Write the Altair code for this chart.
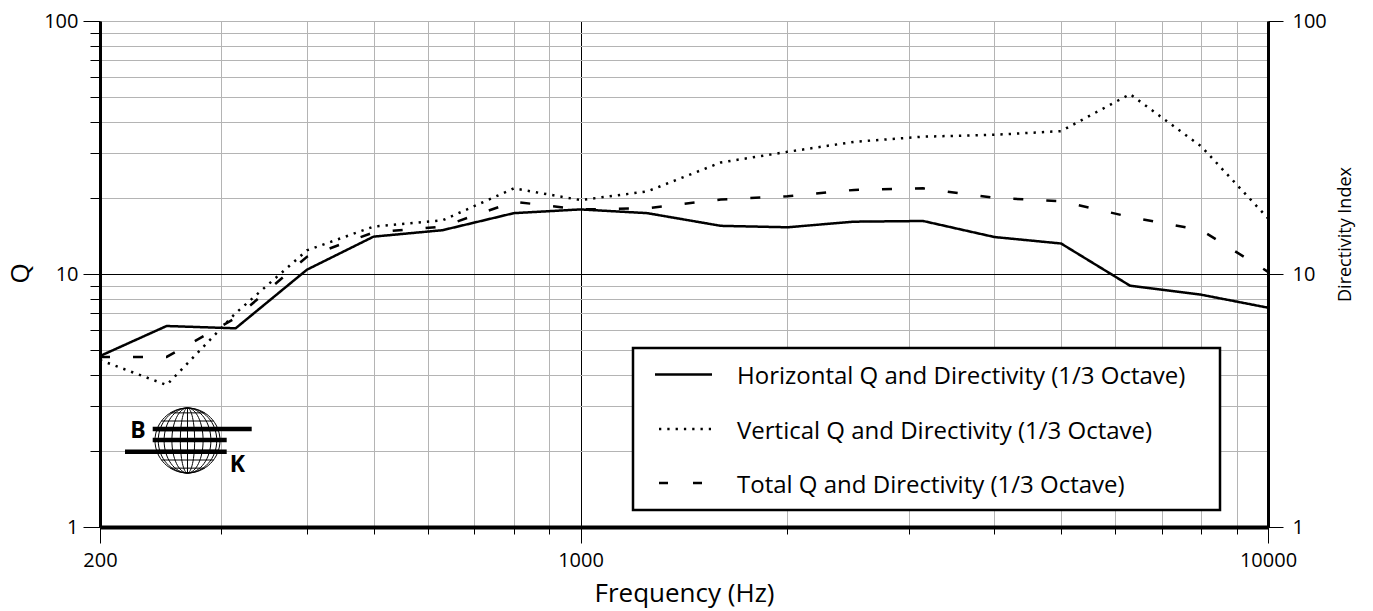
import math
import altair as alt
import pandas as pd

# ---------------- data ----------------
freqs = [200, 250, 315, 400, 500, 630, 800, 1000, 1250, 1600, 2000, 2500,
         3150, 4000, 5000, 6300, 8000, 10000]
horizontal_q = [4.74, 6.23, 6.10, 10.4, 14.05, 14.9, 17.4, 18.0, 17.4, 15.5,
                15.3, 16.1, 16.2, 14.0, 13.2, 8.99, 8.28, 7.36]
vertical_q = [4.57, 3.64, 7.0, 12.4, 15.4, 16.3, 21.8, 19.6, 21.2, 27.6,
              30.4, 33.3, 34.9, 35.5, 36.7, 51.4, 31.9, 16.6]
total_q = [4.7, 4.7, 6.7, 11.7, 14.6, 15.4, 19.3, 18.0, 18.2, 19.7,
           20.3, 21.5, 21.8, 20.0, 19.4, 16.8, 14.9, 10.2]
series_names = ["Horizontal Q and Directivity (1/3 Octave)",
                "Vertical Q and Directivity (1/3 Octave)",
                "Total Q and Directivity (1/3 Octave)"]

x_ticks = [200, 300, 400, 500, 600, 700, 800, 900, 1000,
           2000, 3000, 4000, 5000, 6000, 7000, 8000, 9000, 10000]
x_labels = [200, 1000, 10000]
y_ticks = [1, 2, 3, 4, 5, 6, 7, 8, 9, 10, 20, 30, 40, 50, 60, 70, 80, 90, 100]
y_labels = [1, 10, 100]

x_title = "Frequency (Hz)"
y_title = "Q"
y2_title = "Directivity Index"

rows = []
for name, vals in zip(series_names, [horizontal_q, vertical_q, total_q]):
    for f, v in zip(freqs, vals):
        rows.append({"freq": f, "q": v, "series": name})
df = pd.DataFrame(rows)

FONT = "Open Sans"
dashes = [[1, 0], [2.3, 6], [10, 23]]

x_lab_test = " || ".join(f"datum.value == {v}" for v in x_labels)
y_lab_test = " || ".join(f"datum.value == {v}" for v in y_labels)

x_scale = alt.Scale(type="log", domain=[200, 10000], nice=False)
y_scale = alt.Scale(type="log", domain=[1, 100], nice=False)

x_enc = alt.X(
    "freq:Q", scale=x_scale,
    axis=alt.Axis(
        values=x_ticks,
        labelExpr=f"({x_lab_test}) ? format(datum.value, 'd') : ''",
        labelFlush=False, labelFontSize=20, labelPadding=7, labelFont=FONT,
        labelColor="black",
        tickSize={"condition": {"test": x_lab_test, "value": 16}, "value": 7},
        tickColor="black", tickWidth=1,
        domainColor="black", domainWidth=4,
        grid=True, gridWidth=1,
        gridColor={"condition": {"test": "datum.value == 1000", "value": "black"},
                   "value": "#b4b4b4"},
        title=x_title, titleFontSize=26, titleFont=FONT, titleFontWeight="normal",
        titleColor="black", titleBaseline="alphabetic", titleY=74,
    ),
)

y_left = alt.Y(
    "q:Q", scale=y_scale,
    axis=alt.Axis(
        values=y_ticks,
        labelExpr=f"({y_lab_test}) ? format(datum.value, 'd') : ''",
        labelFontSize=20, labelPadding=5, labelFont=FONT, labelColor="black",
        tickSize={"condition": {"test": y_lab_test, "value": 17}, "value": 10},
        tickColor="black", tickWidth=1,
        domainColor="black", domainWidth=3,
        grid=True, gridWidth=1,
        gridColor={"condition": {"test": "datum.value == 10", "value": "black"},
                   "value": "#b4b4b4"},
        title=y_title, titleFontSize=26, titleFont=FONT, titleFontWeight="normal",
        titleColor="black", titleAngle=270, titleX=-80, titleY=252,
        titleAlign="center", titleBaseline="middle",
    ),
)

y_right = alt.Y(
    "q:Q", scale=y_scale,
    axis=alt.Axis(
        orient="right", values=y_labels, format="d",
        labelFontSize=20, labelPadding=9, labelFont=FONT, labelColor="black",
        tickSize=15, tickColor="black", tickWidth=1,
        domainColor="black", domainWidth=3, grid=False,
        title=y2_title, titleFontSize=18, titleFont=FONT, titleFontWeight="normal",
        titleColor="black", titleAngle=270, titleX=77, titleY=213,
        titleAlign="center", titleBaseline="middle",
    ),
)

lines = alt.Chart(df).mark_line(color="black", strokeWidth=2.5, strokeCap="butt").encode(
    x=x_enc, y=y_left,
    strokeDash=alt.StrokeDash("series:N", scale=alt.Scale(domain=series_names, range=dashes),
                              legend=None),
)

right_axis = alt.Chart(df).mark_line(opacity=0).encode(x=x_enc, y=y_right, detail="series:N")

one = alt.Data(values=[{"a": 1}])

# ---- legend (drawn box) ----
legend_layers = [
    alt.Chart(one).mark_rect(fill="white", stroke="black", strokeWidth=2.5).encode(
        x=alt.value(533), x2=alt.value(1120), y=alt.value(327), y2=alt.value(489))
]
row_y = [353.5, 408, 462]
sym = [(555, 612, [1, 0]), (559, 611, [2.3, 6]), (559, 604, [9, 25])]
for name, ry, (sx0, sx1, dsh) in zip(series_names, row_y, sym):
    legend_layers.append(
        alt.Chart(one).mark_rule(color="black", strokeWidth=2.5, strokeDash=dsh,
                                 strokeCap="butt").encode(
            x=alt.value(sx0), x2=alt.value(sx1), y=alt.value(ry)))
    legend_layers.append(
        alt.Chart(one).mark_text(align="left", baseline="alphabetic", fontSize=24,
                                 font=FONT, color="black").encode(
            x=alt.value(637), y=alt.value(ry + 9.5), text=alt.value(name)))

# ---- logo ----
parts = ["M-1,0A1,1,0,1,1,1,0A1,1,0,1,1,-1,0", "M0,-1L0,1"]
for r in [0.22, 0.48, 0.72, 0.9]:
    parts.append(f"M0,-1A{r},1,0,1,1,0,1A{r},1,0,1,1,0,-1")
for yy in [-0.85, -0.6, -0.3, 0.3, 0.6, 0.85]:
    w = math.sqrt(1 - yy * yy)
    parts.append(f"M{-w:.3f},{yy}L{w:.3f},{yy}")
globe_path = "".join(parts)

logo_layers = [
    alt.Chart(one).mark_point(shape=globe_path, size=4225, filled=False, stroke="black",
                              strokeWidth=1, opacity=1).encode(
        x=alt.value(87.5), y=alt.value(419.5)),
]
for bx0, bx1, by in [(52.7, 151.7, 408), (52.7, 126.7, 419), (25, 126.7, 430.7)]:
    logo_layers.append(
        alt.Chart(one).mark_rule(color="black", strokeWidth=4.5, strokeCap="butt").encode(
            x=alt.value(bx0), x2=alt.value(bx1), y=alt.value(by)))
for txt, tx, ty in [("B", 38, 417), ("K", 137.5, 451)]:
    logo_layers.append(
        alt.Chart(one).mark_text(align="center", baseline="alphabetic", fontSize=23,
                                 font=FONT, fontWeight="bold", color="black").encode(
            x=alt.value(tx), y=alt.value(ty), text=alt.value(txt)))

chart = alt.layer(lines, right_axis, *legend_layers, *logo_layers).resolve_scale(
    y="independent"
).properties(
    width=1168, height=506,
    autosize=alt.AutoSizeParams(type="none"),
    padding={"left": 100, "top": 21, "right": 105, "bottom": 84},
).configure_view(stroke="black", strokeWidth=2.5).configure(background="white")

chart.save("out.html", embed_options={"renderer": "svg", "actions": False})
